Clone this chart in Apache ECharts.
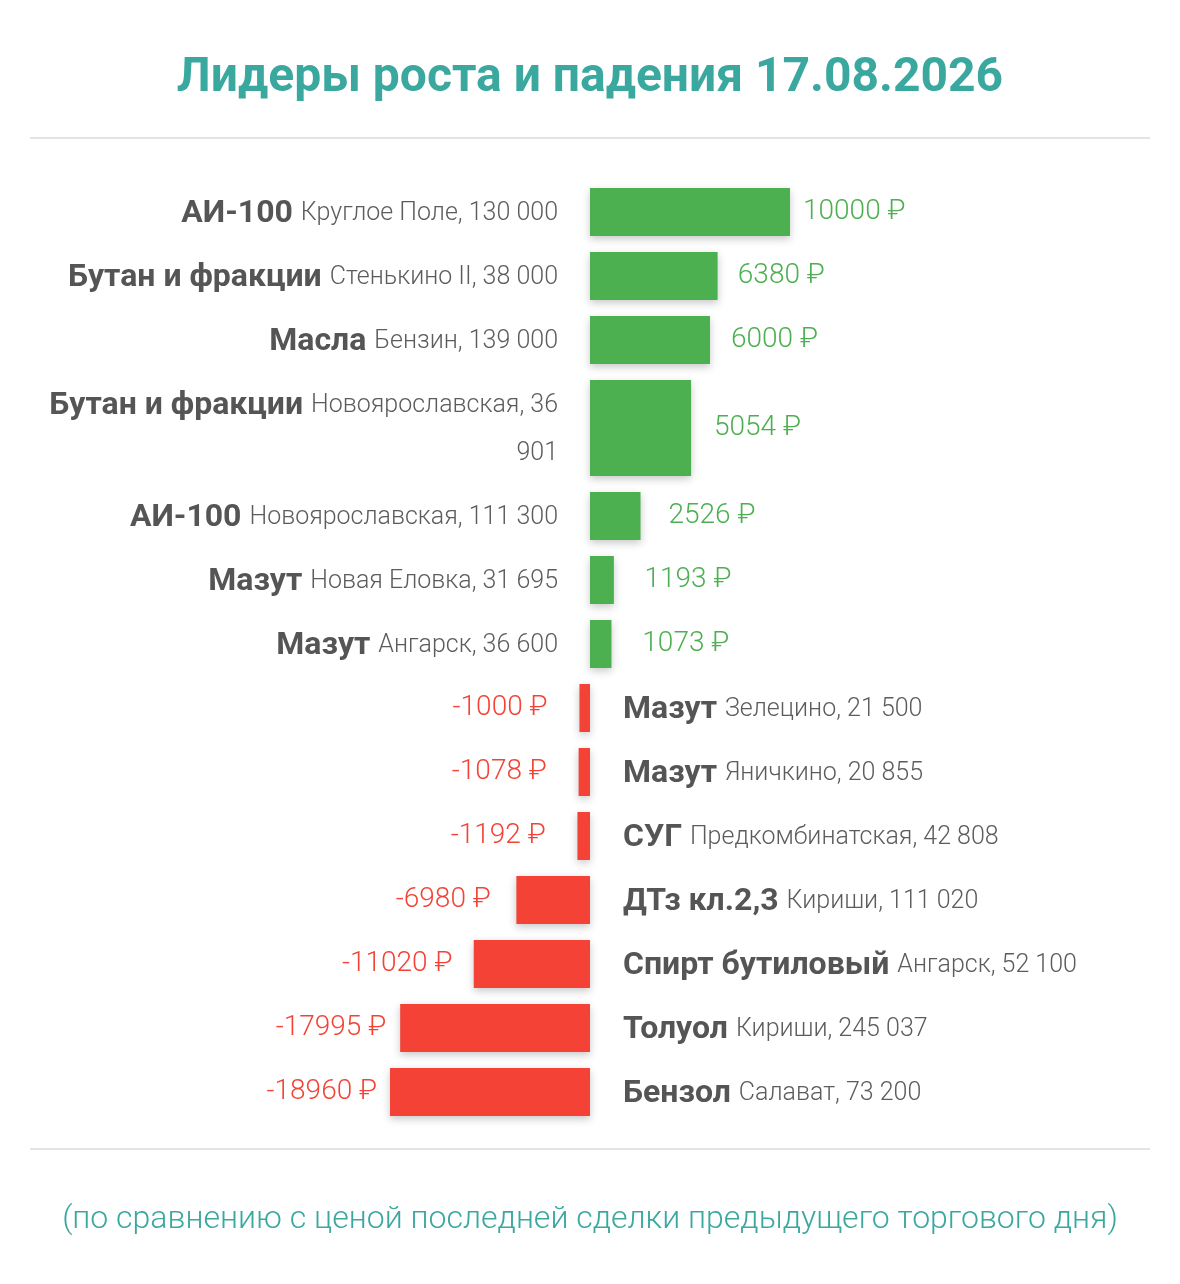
<!DOCTYPE html>
<html>
<head>
<meta charset="utf-8">
<script src="https://cdn.jsdelivr.net/npm/echarts@6/dist/echarts.min.js"></script>
<style>
  html, body { margin: 0; background: #fff; }
  #main { width: 1180px; height: 1284px; }
</style>
</head>
<body>
<div id="main"></div>
<script>
// данные
const products = ['АИ-100', 'Бутан и фракции', 'Масла', 'Бутан и фракции', 'АИ-100', 'Мазут', 'Мазут',
  'Мазут', 'Мазут', 'СУГ', 'ДТз кл.2,3', 'Спирт бутиловый', 'Толуол', 'Бензол'];
const places = ['Круглое Поле', 'Стенькино II', 'Бензин', 'Новоярославская', 'Новоярославская', 'Новая Еловка', 'Ангарск',
  'Зелецино', 'Яничкино', 'Предкомбинатская', 'Кириши', 'Ангарск', 'Кириши', 'Салават'];
const volumes = [130000, 38000, 139000, 36901, 111300, 31695, 36600,
  21500, 20855, 42808, 111020, 52100, 245037, 73200];
const changes = [10000, 6380, 6000, 5054, 2526, 1193, 1073,
  -1000, -1078, -1192, -6980, -11020, -17995, -18960];

const title = 'Лидеры роста и падения 17.08.2026';
const note = '(по сравнению с ценой последней сделки предыдущего торгового дня)';

const TEAL = '#3ba8a0';
const GREEN = '#4caf50';
const RED = '#f44336';
const ROW = 64;          // высота строки
const LINE = 48;         // высота строки текста
const LABEL_MAX = 525;   // ширина колонки подписей
const BOLD_FONT = 'bold 32px Roboto';
const LIGHT_FONT = '300 25px Roboto';

function fmt(n) {
  return String(n).replace(/\B(?=(\d{3})+(?!\d))/g, ' ');
}

// измеряем текст, чтобы перенести длинные подписи как в оригинале
const ctx = document.createElement('canvas').getContext('2d');
function textW(s, font) { ctx.font = font; return ctx.measureText(s).width; }

const labels = products.map((p, i) => {
  const words = (places[i] + ', ' + fmt(volumes[i])).split(' ');
  let line = '', lines = [];
  let used = textW(p + ' ', BOLD_FONT);
  words.forEach(w => {
    const test = line ? line + ' ' + w : w;
    if (line && used + textW(test, LIGHT_FONT) > LABEL_MAX) {
      lines.push(line);
      line = w;
      used = 0;
    } else {
      line = test;
    }
  });
  lines.push(line);
  const rich = '{b|' + p + ' }' + lines.map(l => '{r|' + l + '}').join('\n');
  return { text: rich, lines: lines.length };
});

// строки: начало и конец в единицах высоты строки
let acc = 0;
const rows = labels.map(l => {
  const h = 1 + (l.lines - 1) * LINE / ROW;
  const r = [acc, acc + h];
  acc += h;
  return r;
});
const total = acc;

const posMax = Math.max(...changes.filter(v => v > 0));
const negMin = Math.min(...changes.filter(v => v < 0));

const posData = [], negData = [];
changes.forEach((v, i) => {
  const item = [v, rows[i][0], rows[i][1], i];
  (v >= 0 ? posData : negData).push(item);
});

function renderItem(params, api) {
  const v = api.value(0), i = api.value(3);
  const p0 = api.coord([0, api.value(1)]);
  const p1 = api.coord([v, api.value(2)]);
  const top = p0[1] + 8, bottom = p1[1] - 8;
  const mid = (top + bottom) / 2;
  const pos = v >= 0;
  const len = Math.abs(p1[0] - p0[0]);
  const gap = 13 + 0.1 * (200 - len);
  const align = pos ? 'right' : 'left';
  return {
    type: 'group',
    children: [
      {
        type: 'rect',
        shape: { x: Math.min(p0[0], p1[0]), y: top, width: len, height: bottom - top },
        style: {
          fill: pos ? GREEN : RED,
          shadowBlur: 8, shadowOffsetY: 3, shadowColor: 'rgba(0,0,0,0.22)'
        }
      },
      {
        type: 'text',
        x: pos ? p1[0] + gap : p1[0] - gap,
        y: mid,
        style: {
          text: v + ' ₽',
          fill: pos ? GREEN : RED,
          font: '300 28px Roboto',
          align: pos ? 'left' : 'right',
          verticalAlign: 'middle'
        }
      },
      {
        type: 'text',
        x: pos ? p0[0] - 32 : p0[0] + 33,
        y: mid + 2,
        style: {
          text: labels[i].text,
          align: align,
          verticalAlign: 'middle',
          rich: {
            b: { fontFamily: 'Roboto', fontWeight: 'bold', fontSize: 32, fill: '#555555', lineHeight: LINE, align: align },
            r: { fontFamily: 'Roboto', fontWeight: 300, fontSize: 25, fill: '#5c5c5c', lineHeight: LINE, align: align }
          }
        }
      }
    ]
  };
}

const chart = echarts.init(document.getElementById('main'));
chart.setOption({
  animation: false,
  backgroundColor: '#fff',
  title: {
    text: title,
    left: 'center',
    top: 50,
    textStyle: { fontFamily: 'Roboto', fontWeight: 'bold', fontSize: 48, color: TEAL }
  },
  grid: [
    { left: 590, width: 200, top: 180, height: ROW * total },
    { left: 390, width: 200, top: 180, height: ROW * total }
  ],
  xAxis: [
    { type: 'value', gridIndex: 0, min: 0, max: posMax, show: false },
    { type: 'value', gridIndex: 1, min: negMin, max: 0, show: false }
  ],
  yAxis: [
    { type: 'value', gridIndex: 0, min: 0, max: total, inverse: true, show: false },
    { type: 'value', gridIndex: 1, min: 0, max: total, inverse: true, show: false }
  ],
  series: [
    { type: 'custom', xAxisIndex: 0, yAxisIndex: 0, renderItem, data: posData, clip: false },
    { type: 'custom', xAxisIndex: 1, yAxisIndex: 1, renderItem, data: negData, clip: false }
  ],
  graphic: [
    { type: 'line', shape: { x1: 30, y1: 138, x2: 1150, y2: 138 }, style: { stroke: '#e4e4e4', lineWidth: 2 } },
    { type: 'line', shape: { x1: 30, y1: 1149, x2: 1150, y2: 1149 }, style: { stroke: '#e4e4e4', lineWidth: 2 } },
    {
      type: 'text', x: 590, y: 1220,
      style: { text: note, font: '300 32px Roboto', fill: TEAL, align: 'center', verticalAlign: 'middle' }
    }
  ]
});
</script>
</body>
</html>
